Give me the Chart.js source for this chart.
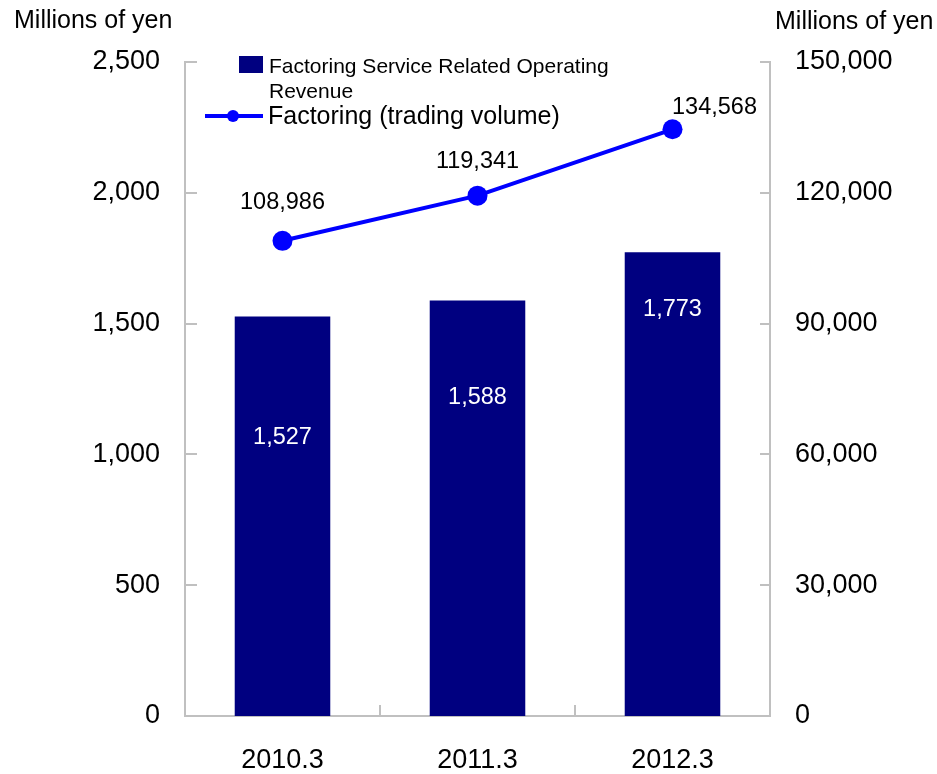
<!DOCTYPE html>
<html>
<head>
<meta charset="utf-8">
<script src="https://cdn.jsdelivr.net/npm/chart.js@4"></script>
<style>
  html, body { margin: 0; padding: 0; background: #fff; }
  #wrap { width: 937px; height: 774px; position: relative; }
</style>
</head>
<body>
<div id="wrap"><canvas id="chart-factoring"></canvas></div>
<script>
{ // keep vars local

const periods = ['2010.3', '2011.3', '2012.3'];
const revenue = [1527, 1588, 1773];          // left axis, millions of yen
const volume = [108986, 119341, 134568];     // right axis, millions of yen
const leftScale = { min: 0, max: 2500, step: 500 };
const rightScale = { min: 0, max: 150000, step: 30000 };

const FONT = '"Liberation Sans", Arial, sans-serif';
const AXIS_GREY = '#c0c0c0';
const fmt = v => Number(v).toLocaleString('en-US');

// titles, legend, inward tick marks and value labels
const decorations = {
  id: 'decorations',
  afterDraw(chart) {
    const ctx = chart.ctx;
    const area = chart.chartArea;
    const yL = chart.scales.y;
    const yR = chart.scales.y1;
    const x = chart.scales.x;

    ctx.save();

    // inward tick marks
    ctx.strokeStyle = AXIS_GREY;
    ctx.lineWidth = 2;
    ctx.beginPath();
    yL.ticks.forEach(t => {
      const py = Math.round(yL.getPixelForValue(t.value));
      ctx.moveTo(area.left, py); ctx.lineTo(area.left + 12, py);
    });
    yR.ticks.forEach(t => {
      const py = Math.round(yR.getPixelForValue(t.value));
      ctx.moveTo(area.right, py); ctx.lineTo(area.right - 10, py);
    });
    for (let i = 1; i < periods.length; i++) {
      const px = Math.round((x.getPixelForValue(i - 1) + x.getPixelForValue(i)) / 2);
      ctx.moveTo(px, area.bottom); ctx.lineTo(px, area.bottom - 11);
    }
    ctx.stroke();

    // axis unit titles
    ctx.fillStyle = '#000';
    ctx.font = '25px ' + FONT;
    ctx.textBaseline = 'middle';
    ctx.textAlign = 'left';
    ctx.fillText('Millions of yen', 14, 21);
    ctx.fillText('Millions of yen', 775, 22);

    // bar value labels (white, inside bars)
    const drops = [121, 97, 57];
    ctx.font = '23.5px ' + FONT;
    ctx.fillStyle = '#fff';
    ctx.textAlign = 'center';
    chart.getDatasetMeta(0).data.forEach((bar, i) => {
      ctx.fillText(fmt(revenue[i]), bar.x, bar.y + drops[i]);
    });

    // line value labels
    const shifts = [[0, -38], [0, -34], [42, -22]];
    ctx.fillStyle = '#000';
    chart.getDatasetMeta(1).data.forEach((pt, i) => {
      ctx.fillText(fmt(volume[i]), pt.x + shifts[i][0], pt.y + shifts[i][1]);
    });

    // legend
    const ds = chart.data.datasets;
    ctx.fillStyle = ds[0].backgroundColor;
    ctx.fillRect(239, 56, 24, 17);
    ctx.fillStyle = '#000';
    ctx.textAlign = 'left';
    ctx.font = '21px ' + FONT;
    ctx.fillText(ds[0].label[0], 269, 67);
    ctx.fillText(ds[0].label[1], 269, 92);

    ctx.strokeStyle = ds[1].borderColor;
    ctx.lineWidth = 4;
    ctx.beginPath();
    ctx.moveTo(205, 116); ctx.lineTo(263, 116);
    ctx.stroke();
    ctx.fillStyle = ds[1].pointBackgroundColor;
    ctx.beginPath();
    ctx.arc(233, 116, 6, 0, Math.PI * 2);
    ctx.fill();
    ctx.fillStyle = '#000';
    ctx.font = '25px ' + FONT;
    ctx.fillText(ds[1].label, 268, 117);

    ctx.restore();
  }
};

const ctx = document.getElementById('chart-factoring').getContext('2d');

new Chart(ctx, {
  data: {
    labels: periods,
    datasets: [{
      type: 'bar',
      label: ['Factoring Service Related Operating', 'Revenue'],
      data: revenue,
      backgroundColor: '#000080',
      yAxisID: 'y',
      categoryPercentage: 1,
      barPercentage: 0.49,
      order: 2
    }, {
      type: 'line',
      label: 'Factoring (trading volume)',
      data: volume,
      borderColor: '#0000ff',
      borderWidth: 4,
      pointRadius: 10,
      pointBackgroundColor: '#0000ff',
      pointBorderWidth: 0,
      yAxisID: 'y1',
      order: 1
    }]
  },
  options: {
    responsive: true,
    maintainAspectRatio: false,
    animation: false,
    layout: { padding: { top: 62, left: 0, right: 0, bottom: 0 } },
    plugins: {
      legend: { display: false },
      tooltip: { enabled: false }
    },
    scales: {
      x: {
        offset: true,
        grid: { display: false, drawTicks: false },
        border: { display: true, color: AXIS_GREY, width: 2 },
        ticks: { color: '#000', font: { family: FONT, size: 27 }, padding: 28, maxRotation: 0 },
        afterFit(scale) { scale.height = 58; }
      },
      y: {
        position: 'left',
        min: leftScale.min,
        max: leftScale.max,
        grid: { display: false, drawTicks: false },
        border: { display: true, color: AXIS_GREY, width: 2 },
        ticks: { stepSize: leftScale.step, color: '#000', font: { family: FONT, size: 27 }, padding: 25, callback: fmt },
        afterFit(scale) { scale.width = 185; }
      },
      y1: {
        position: 'right',
        min: rightScale.min,
        max: rightScale.max,
        grid: { display: false, drawTicks: false },
        border: { display: true, color: AXIS_GREY, width: 2 },
        ticks: { stepSize: rightScale.step, color: '#000', font: { family: FONT, size: 27 }, padding: 25, callback: fmt },
        afterFit(scale) { scale.width = 167; }
      }
    }
  },
  plugins: [decorations]
});

} // scoping
</script>
</body>
</html>
